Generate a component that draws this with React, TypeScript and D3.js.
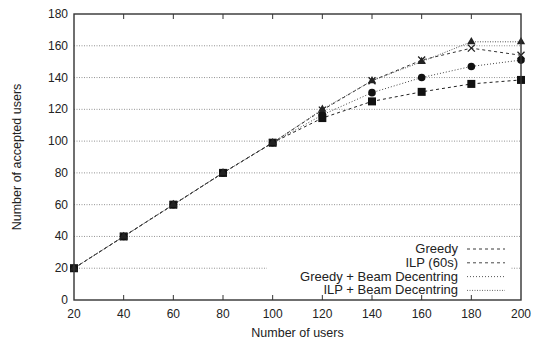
import React from "react";
import * as d3 from "d3";

const users = [20, 40, 60, 80, 100, 120, 140, 160, 180, 200];
const greedy = [20, 40, 60, 80, 99, 114.5, 125, 131, 136, 138.5];
const ilp60 = [20, 40, 60, 80, 99, 119.5, 138, 151, 158.5, 154];
const greedyBeam = [20, 40, 60, 80, 99, 116.5, 130.5, 140, 147, 151];
const ilpBeam = [20, 40, 60, 80, 99, 120, 138, 150, 162.5, 162.5];
const xTicks = [20, 40, 60, 80, 100, 120, 140, 160, 180, 200];
const yTicks = [0, 20, 40, 60, 80, 100, 120, 140, 160, 180];

const series = [
  { name: "Greedy", values: greedy, dash: "3,3", marker: "square", color: "#222" },
  { name: "ILP (60s)", values: ilp60, dash: "3,3", marker: "cross", color: "#333" },
  { name: "Greedy + Beam Decentring", values: greedyBeam, dash: "1,2", marker: "circle", color: "#444" },
  { name: "ILP + Beam Decentring", values: ilpBeam, dash: "1,1.5", marker: "triangle", color: "#555" },
];

export default function App() {
  const width = 539,
    height = 343,
    left = 74,
    right = 521,
    top = 14,
    bottom = 300;

  const x = d3.scaleLinear().domain([20, 200]).range([left, right]);
  const y = d3.scaleLinear().domain([0, 180]).range([bottom, top]);
  const line = d3
    .line<number>()
    .x((d, i) => x(users[i]))
    .y((d) => y(d));

  const font = "Liberation Sans, Arial, sans-serif";

  const marker = (type: string, cx: number, cy: number, key: string) => {
    if (type === "square")
      return <rect key={key} x={cx - 4} y={cy - 4} width={8} height={8} fill="#111" />;
    if (type === "circle") return <circle key={key} cx={cx} cy={cy} r={3.8} fill="#111" />;
    if (type === "triangle")
      return (
        <path
          key={key}
          d={d3.symbol().type(d3.symbolTriangle).size(30)() || ""}
          transform={`translate(${cx},${cy})`}
          fill="#222"
        />
      );
    return (
      <path
        key={key}
        d={`M${cx - 3.5},${cy - 3.5}L${cx + 3.5},${cy + 3.5}M${cx - 3.5},${cy + 3.5}L${cx + 3.5},${cy - 3.5}`}
        stroke="#222"
        strokeWidth={1.3}
        fill="none"
      />
    );
  };

  // legend box geometry
  const legRight = 458,
    legTop = 242,
    legStep = 13.8;

  return (
    <svg width={width} height={height} style={{ position: "absolute", left: 0, top: 0 }}>
      <rect width={width} height={height} fill="#fff" />
      {/* grid */}
      {yTicks
        .filter((t) => t > 0 && t < 180)
        .map((t) => (
          <line
            key={"g" + t}
            x1={left}
            x2={right}
            y1={y(t)}
            y2={y(t)}
            stroke="#777"
            strokeWidth={0.8}
            strokeDasharray="1,1.5"
          />
        ))}
      {/* series */}
      {series.map((s) => (
        <path
          key={s.name}
          d={line(s.values) || ""}
          fill="none"
          stroke={s.color}
          strokeWidth={1}
          strokeDasharray={s.dash}
        />
      ))}
      {series.map((s) =>
        s.values.map((v, i) => marker(s.marker, x(users[i]), y(v), s.name + i))
      )}
      {/* legend */}
      <rect x={267} y={legTop - 3} width={244} height={bottom - legTop + 2} fill="#fff" />
      {series.map((s, i) => (
        <g key={"l" + s.name}>
          <text
            x={legRight}
            y={legTop + 11 + i * legStep}
            textAnchor="end"
            fontFamily={font}
            fontSize={13}
            fill="#222"
          >
            {s.name}
          </text>
          <line
            x1={467}
            x2={505}
            y1={legTop + 7 + i * legStep}
            y2={legTop + 7 + i * legStep}
            stroke={s.color}
            strokeWidth={0.9}
            strokeDasharray={s.dash}
          />
        </g>
      ))}
      {/* ticks */}
      {xTicks
        .filter((t) => t > 20 && t < 200)
        .map((t) => (
          <g key={"t" + t}>
            <line x1={x(t)} x2={x(t)} y1={bottom} y2={bottom - 5} stroke="#333" />
            <line x1={x(t)} x2={x(t)} y1={top} y2={top + 5} stroke="#333" />
          </g>
        ))}
      {/* frame */}
      <rect
        x={left}
        y={top}
        width={right - left}
        height={bottom - top}
        fill="none"
        stroke="#333"
        strokeWidth={1.4}
      />
      {xTicks.map((t) => (
        <text
          key={"xl" + t}
          x={x(t)}
          y={bottom + 18}
          textAnchor="middle"
          fontFamily={font}
          fontSize={12}
          fill="#222"
        >
          {t}
        </text>
      ))}
      {yTicks.map((t) => (
        <text
          key={"yl" + t}
          x={left - 6}
          y={y(t) + 4}
          textAnchor="end"
          fontFamily={font}
          fontSize={12}
          fill="#222"
        >
          {t}
        </text>
      ))}
      <text
        x={(left + right) / 2}
        y={337}
        textAnchor="middle"
        fontFamily={font}
        fontSize={12.5}
        fill="#222"
      >
        Number of users
      </text>
      <text
        transform={`translate(21,${(top + bottom) / 2}) rotate(-90)`}
        textAnchor="middle"
        fontFamily={font}
        fontSize={12.5}
        fill="#222"
      >
        Number of accepted users
      </text>
    </svg>
  );
}
